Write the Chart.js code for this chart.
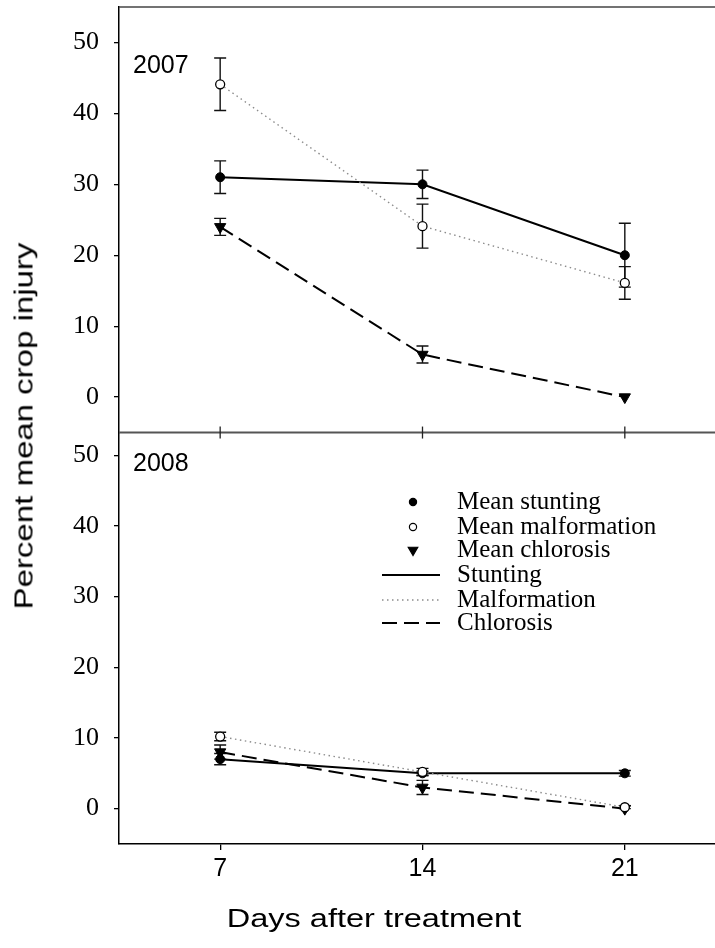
<!DOCTYPE html>
<html><head><meta charset="utf-8">
<script src="https://cdn.jsdelivr.net/npm/chart.js@4"></script>
<style>
html,body{margin:0;padding:0;background:#fff;}
#wrap{position:relative;width:715px;height:948px;overflow:hidden;}
canvas{position:absolute;left:0;top:0;}
.ttl{position:absolute;font-family:'Liberation Sans',Arial,sans-serif;font-size:25px;color:#000;white-space:nowrap;line-height:1;}
#ytitle{left:24px;top:426px;transform:translate(-50%,-50%) rotate(-90deg) scaleX(1.32);}
#xtitle{left:374px;top:918px;transform:translate(-50%,-50%) scaleX(1.3);}
</style></head><body>
<div id="wrap"><canvas id="c" width="715" height="948"></canvas>
<div class="ttl" id="ytitle">Percent mean crop injury</div>
<div class="ttl" id="xtitle">Days after treatment</div>
</div>
<script>
// ---- data ----
const days = [7, 14, 21];
const xTickValues = [7, 14, 21];
const yTickValues = [0, 10, 20, 30, 40, 50];
const years = ['2007', '2008'];
const legendLabels = ['Mean stunting', 'Mean malformation', 'Mean chlorosis', 'Stunting', 'Malformation', 'Chlorosis'];

const stunting2007 = [31, 30, 20];
const stuntingErr2007 = [2.3, 2.0, 4.5];
const malformation2007 = [44.1, 24.1, 16.1];
const malformationErr2007 = [3.7, 3.1, 2.3];
const chlorosis2007 = [24, 6, 0];
const chlorosisErr2007 = [1.2, 1.2, 0];

const stunting2008 = [7, 5, 5];
const stuntingErr2008 = [0.8, 0.3, 0.4];
const malformation2008 = [10.2, 5.2, 0.2];
const malformationErr2008 = [0.6, 0.5, 0.2];
const chlorosis2008 = [8, 3, 0];
const chlorosisErr2008 = [1.0, 1.0, 0];

// ---- styles ----
const styles = {
  stunting: {borderColor:'#000', borderWidth:2, borderDash:[], pointStyle:'circle', pointRadius:4.5, pointBackgroundColor:'#000', pointBorderColor:'#000', pointBorderWidth:1},
  malformation: {borderColor:'#8c8c8c', borderWidth:1.4, borderDash:[1.5,3.5], pointStyle:'circle', pointRadius:4.5, pointBackgroundColor:'#fff', pointBorderColor:'#000', pointBorderWidth:1.3},
  chlorosis: {borderColor:'#000', borderWidth:2, borderDash:[15,7], pointStyle:'triangle', pointRotation:180, pointRadius:6.5, pointBackgroundColor:'#000', pointBorderColor:'#000', pointBorderWidth:1}
};
function mk(label, vals, errs, axis, st) {
  return Object.assign({label, data: days.map((d,i)=>({x:d, y:vals[i]})), err: errs, yAxisID: axis, fill:false, tension:0, pointHoverRadius:st.pointRadius}, st);
}
const datasets = [
  mk('Malformation 2007', malformation2007, malformationErr2007, 'yTop', styles.malformation),
  mk('Chlorosis 2007', chlorosis2007, chlorosisErr2007, 'yTop', styles.chlorosis),
  mk('Stunting 2007', stunting2007, stuntingErr2007, 'yTop', styles.stunting),
  mk('Malformation 2008', malformation2008, malformationErr2008, 'yBot', styles.malformation),
  mk('Chlorosis 2008', chlorosis2008, chlorosisErr2008, 'yBot', styles.chlorosis),
  mk('Stunting 2008', stunting2008, stuntingErr2008, 'yBot', styles.stunting)
];

function drawMarker(ctx, style, r, x, y, rot) {
  ctx.beginPath();
  if (style === 'triangle') {
    let a = (rot||0) * Math.PI/180;
    for (let k=0;k<3;k++){ const ang = a + k*2*Math.PI/3; const px = x + Math.sin(ang)*r, py = y - Math.cos(ang)*r; k?ctx.lineTo(px,py):ctx.moveTo(px,py);} ctx.closePath();
  } else { ctx.arc(x, y, r, 0, Math.PI*2); }
  ctx.fill(); ctx.stroke();
}

const deco = {
  id: 'deco',
  beforeDatasetsDraw(chart) {
    const ctx = chart.ctx, xs = chart.scales.x;
    ctx.save();
    ctx.strokeStyle = '#111'; ctx.lineWidth = 1.4; ctx.setLineDash([]);
    chart.data.datasets.forEach(ds => {
      const ys = chart.scales[ds.yAxisID];
      ds.data.forEach((p, j) => {
        const e = ds.err[j]; if (!e) return;
        const px = xs.getPixelForValue(p.x);
        const y1 = ys.getPixelForValue(p.y + e), y2 = ys.getPixelForValue(p.y - e);
        ctx.beginPath();
        ctx.moveTo(px, y1); ctx.lineTo(px, y2);
        ctx.moveTo(px-6, y1); ctx.lineTo(px+6, y1);
        ctx.moveTo(px-6, y2); ctx.lineTo(px+6, y2);
        ctx.stroke();
      });
    });
    ctx.restore();
  },
  afterDraw(chart) {
    const ctx = chart.ctx, xs = chart.scales.x, yt = chart.scales.yTop, yb = chart.scales.yBot;
    const ca = chart.chartArea;
    ctx.save();
    // top border
    ctx.strokeStyle = '#444'; ctx.lineWidth = 1.5;
    ctx.beginPath(); ctx.moveTo(ca.left, ca.top); ctx.lineTo(ca.right, ca.top); ctx.stroke();
    // divider
    const dy = yt.bottom;
    ctx.strokeStyle = '#555'; ctx.lineWidth = 2;
    ctx.beginPath(); ctx.moveTo(ca.left, dy); ctx.lineTo(ca.right, dy); ctx.stroke();
    ctx.strokeStyle = '#222'; ctx.lineWidth = 1.3;
    xTickValues.forEach(v => { const px = xs.getPixelForValue(v); ctx.beginPath(); ctx.moveTo(px, dy-6); ctx.lineTo(px, dy+6); ctx.stroke(); });
    // year labels
    ctx.fillStyle = '#000'; ctx.font = '25px "Liberation Sans", Arial, sans-serif';
    ctx.textAlign = 'left'; ctx.textBaseline = 'middle';
    ctx.fillText(years[0], ca.left + 14, yt.top + 59);
    ctx.fillText(years[1], ca.left + 14, yb.top + 32);
    // legend
    const mx = 413, tx = 457, rows = [502, 527, 550, 575, 600, 623];
    ctx.font = '25px "Liberation Serif", "Times New Roman", serif';
    const legStyles = [styles.stunting, styles.malformation, styles.chlorosis];
    legStyles.forEach((st, i) => {
      ctx.fillStyle = st.pointBackgroundColor; ctx.strokeStyle = '#000'; ctx.lineWidth = 1.2; ctx.setLineDash([]);
      drawMarker(ctx, st.pointStyle, st.pointStyle === 'triangle' ? 5.5 : 3.6, mx, rows[i], st.pointRotation);
    });
    legStyles.forEach((st, i) => {
      ctx.strokeStyle = st.borderColor; ctx.lineWidth = st.borderWidth; ctx.setLineDash(st.borderDash);
      ctx.beginPath(); ctx.moveTo(382, rows[i+3]); ctx.lineTo(440, rows[i+3]); ctx.stroke();
    });
    ctx.setLineDash([]);
    ctx.fillStyle = '#000';
    legendLabels.forEach((t, i) => ctx.fillText(t, tx, rows[i]));
    ctx.restore();
  }
};

const yCommon = (min, max) => ({
  type: 'linear', position: 'left', stack: 'panels', min, max,
  afterBuildTicks: s => { s.ticks = yTickValues.map(v => ({value: v})); },
  afterFit: s => { s.width = 119; s.paddingTop = 0; s.paddingBottom = 0; },
  grid: {drawOnChartArea: false, drawTicks: true, tickLength: 5, color: '#000', lineWidth: 1.3},
  border: {display: true, color: '#000', width: 1.5},
  ticks: {color: '#000', padding: 15, font: {family: '"Liberation Serif", "Times New Roman", serif', size: 26}, callback: v => String(v)}
});

new Chart(document.getElementById('c'), {
  type: 'line',
  data: {datasets},
  options: {
    responsive: false, animation: false, devicePixelRatio: 1,
    layout: {autoPadding: false, padding: {top: 7, right: 0, left: 0, bottom: 0}},
    plugins: {legend: {display: false}, tooltip: {enabled: false}},
    scales: {
      x: {
        type: 'linear', min: 3.5, max: 24.12,
        afterBuildTicks: s => { s.ticks = xTickValues.map(v => ({value: v})); },
        afterFit: s => { s.height = 104; s.paddingLeft = 0; s.paddingRight = 0; },
        grid: {drawOnChartArea: false, drawTicks: true, tickLength: 6, color: '#000', lineWidth: 1.3},
        border: {display: true, color: '#000', width: 1.5},
        ticks: {color: '#000', padding: 4, maxRotation: 0, font: {family: '"Liberation Sans", Arial, sans-serif', size: 25}, callback: v => String(v)}
      },
      yBot: Object.assign(yCommon(-5, 53.2), {stackWeight: 411.3}),
      yTop: Object.assign(yCommon(-5, 55), {stackWeight: 425.4})
    }
  },
  plugins: [deco]
});
</script>
</body></html>
